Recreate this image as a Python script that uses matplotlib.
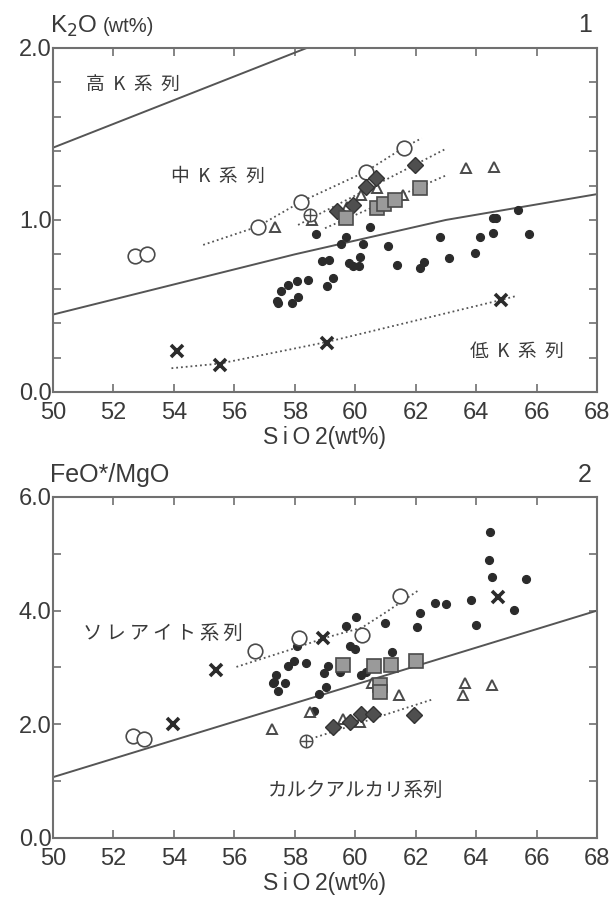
import matplotlib
matplotlib.use("Agg")
import matplotlib.pyplot as plt

plt.rcParams['font.family'] = ['Liberation Sans', 'Noto Sans CJK JP', 'DejaVu Sans']

# ---------------- Panel 1 : K2O vs SiO2 ----------------
k_dot_x = [58.7, 58.91, 59.13, 59.25, 59.05, 58.44, 58.08, 57.79, 57.55, 58.12, 57.9, 57.42, 57.46,
           59.8, 59.93, 60.13, 60.15, 61.38, 62.15, 62.26, 63.1, 63.95,
           65.38, 64.56, 64.67, 62.8, 64.12, 64.56, 65.75,
           60.48, 59.71, 59.54, 60.26, 61.09]
k_dot_y = [0.92, 0.763, 0.767, 0.661, 0.618, 0.651, 0.645, 0.62, 0.589, 0.554, 0.519, 0.53, 0.52,
           0.748, 0.733, 0.733, 0.783, 0.74, 0.719, 0.757, 0.777, 0.806,
           1.058, 1.01, 1.01, 0.899, 0.899, 0.926, 0.919,
           0.957, 0.9, 0.86, 0.86, 0.849]
k_circ_x = [52.7, 53.1, 56.77, 58.22, 60.35, 61.6]
k_circ_y = [0.79, 0.80, 0.961, 1.107, 1.281, 1.42]
k_tri_x = [57.34, 58.57, 59.74, 60.2, 60.73, 61.58, 63.65, 64.59]
k_tri_y = [0.961, 1.0, 1.074, 1.145, 1.184, 1.145, 1.30, 1.306]
k_dia_x = [59.41, 59.93, 60.37, 60.7, 61.99]
k_dia_y = [1.054, 1.087, 1.19, 1.242, 1.32]
k_sq_x = [59.71, 60.73, 60.94, 61.31, 62.15]
k_sq_y = [1.01, 1.068, 1.093, 1.116, 1.184]
k_crc_x = [58.5]
k_crc_y = [1.03]
k_x_x = [54.09, 55.52, 59.05, 64.83]
k_x_y = [0.238, 0.157, 0.287, 0.535]

# boundary lines (Gill-type)
k_high_x = [50, 58.4]
k_high_y = [1.42, 2.0]
k_low_x = [50, 58, 63, 68]
k_low_y = [0.45, 0.80, 1.0, 1.15]
# dotted trends
k_tr_circ_x = [54.97, 56.77, 58.22, 60.35, 61.6, 62.2]
k_tr_circ_y = [0.855, 0.961, 1.107, 1.281, 1.42, 1.475]
k_tr_dia_x = [58.11, 62.96]
k_tr_dia_y = [0.971, 1.41]
k_tr_sq_x = [59.0, 63.02]
k_tr_sq_y = [0.952, 1.26]
k_tr_x_x = [53.92, 55.52, 59.05, 64.83, 65.33]
k_tr_x_y = [0.138, 0.165, 0.29, 0.535, 0.558]

# ---------------- Panel 2 : FeO*/MgO vs SiO2 ----------------
f_dot_x = [64.47, 64.42, 64.53, 65.64, 65.27, 63.83, 63.0, 62.63, 64.0, 62.16, 62.03, 61.0,
           59.69, 60.04, 59.84, 60.0, 61.23, 58.06,
           57.98, 57.78, 58.36, 59.1, 58.96, 59.49, 60.18, 60.36, 59.02, 58.79,
           57.37, 57.31, 57.28, 57.69, 57.43, 58.63]
f_dot_y = [5.38, 4.89, 4.60, 4.56, 4.01, 4.18, 4.11, 4.135, 3.74, 3.95, 3.71, 3.78,
           3.73, 3.89, 3.37, 3.32, 3.28, 3.37,
           3.11, 3.03, 3.08, 3.02, 2.91, 2.92, 2.86, 2.92, 2.66, 2.54,
           2.86, 2.75, 2.73, 2.73, 2.59, 2.24]
f_circ_x = [52.65, 53.0, 56.68, 58.13, 60.22, 61.47]
f_circ_y = [1.79, 1.74, 3.29, 3.52, 3.58, 4.25]
f_tri_x = [57.25, 58.5, 59.6, 60.15, 60.54, 61.45, 63.63, 63.58, 64.54]
f_tri_y = [1.91, 2.22, 2.10, 2.04, 2.73, 2.51, 2.72, 2.51, 2.69]
f_dia_x = [59.27, 59.82, 60.2, 60.59, 61.93]
f_dia_y = [1.96, 2.04, 2.18, 2.18, 2.16]
f_sq_x = [59.58, 60.61, 61.17, 62.02, 60.81, 60.81]
f_sq_y = [3.04, 3.02, 3.04, 3.12, 2.69, 2.57]
f_crc_x = [58.36]
f_crc_y = [1.71]
f_x_x = [53.98, 55.41, 58.93, 64.72]
f_x_y = [2.0, 2.95, 3.51, 4.24]

f_div_x = [50, 68]
f_div_y = [1.07, 4.0]
f_tr_circ_x = [56.07, 58.13, 58.93, 60.22, 61.04, 62.13]
f_tr_circ_y = [3.01, 3.36, 3.51, 3.70, 3.98, 4.37]
f_tr_dia_x = [58.39, 62.57]
f_tr_dia_y = [1.72, 2.44]

x_ticks = [50, 52, 54, 56, 58, 60, 62, 64, 66, 68]

TXT = '#3a3a3a'
SPINE = '#707070'
LINE = '#555555'

fig = plt.figure(figsize=(6.14, 8.99), dpi=100)
ax1 = fig.add_axes([0.0863, 0.5640, 0.886, 0.3827])
ax2 = fig.add_axes([0.0863, 0.0679, 0.886, 0.3793])

sp = '\u2009'
jp = ['Noto Sans CJK JP', 'DejaVu Sans']
xlab = 'S' + sp + 'i' + sp + 'O' + sp + '2' + '(wt%)'


def style(ax, ymax, ymajor, yminor):
    ax.set_xlim(50, 68)
    ax.set_ylim(0, ymax)
    ax.set_xticks(x_ticks)
    ax.set_xticklabels([str(t) for t in x_ticks])
    nmaj = int(round(ymax / ymajor))
    ax.set_yticks([i * ymajor for i in range(nmaj + 1)])
    ax.set_yticklabels(['%.1f' % (i * ymajor) for i in range(nmaj + 1)])
    n = int(round(ymax / yminor))
    ax.set_yticks([i * yminor for i in range(n + 1)], minor=True)
    ax.tick_params(which='both', direction='in', top=True, right=True, color=SPINE,
                   width=1.2, length=6, labelcolor=TXT, labelsize=17)
    ax.tick_params(axis='x', pad=7)
    ax.tick_params(axis='y', pad=1)
    for s in ax.spines.values():
        s.set_color(SPINE)
        s.set_linewidth(1.5)
    ax.set_xlabel(xlab, fontsize=16.5, color=TXT, labelpad=2,
                  family=['Liberation Sans', 'DejaVu Sans'])


def markers(ax, dx, dy, cx, cy, tx, ty, qx, qy, sx, sy, ccx, ccy, xx, xy):
    ax.plot(dx, dy, 'o', ms=5.6, color='#2b2b2b', mec='#2b2b2b', zorder=5)
    ax.plot(tx, ty, '^', ms=7.5, mfc='white', mec='#4a4a4a', mew=1.4, zorder=6)
    ax.plot(cx, cy, 'o', ms=10.5, mfc='white', mec='#4a4a4a', mew=1.2, zorder=6)
    ax.plot(ccx, ccy, 'o', ms=9, mfc='white', mec='#4a4a4a', mew=1.1, zorder=6)
    ax.plot(ccx, ccy, '+', ms=9, mec='#4a4a4a', mew=1.0, zorder=7)
    ax.plot(qx, qy, 'D', ms=8, mfc='#4f4f4f', mec='#333333', mew=1.0, zorder=7)
    ax.plot(sx, sy, 's', ms=10, mfc='#9a9a9a', mec='#4a4a4a', mew=1.2, zorder=7)
    ax.plot(xx, xy, 'x', ms=9, mec='#2b2b2b', mew=2.6, zorder=7)


# Panel 1
style(ax1, 2.0, 1.0, 0.2)
ax1.plot(k_high_x, k_high_y, '-', color=LINE, lw=1.4)
ax1.plot(k_low_x, k_low_y, '-', color=LINE, lw=1.4)
for tx_, ty_ in [(k_tr_circ_x, k_tr_circ_y), (k_tr_dia_x, k_tr_dia_y),
                 (k_tr_sq_x, k_tr_sq_y), (k_tr_x_x, k_tr_x_y)]:
    ax1.plot(tx_, ty_, ':', color='#555555', lw=1.3)
markers(ax1, k_dot_x, k_dot_y, k_circ_x, k_circ_y, k_tri_x, k_tri_y, k_dia_x, k_dia_y,
        k_sq_x, k_sq_y, k_crc_x, k_crc_y, k_x_x, k_x_y)
ax1.text(51.1, 1.785, '高  K  系  列', fontsize=13.5, color=TXT, family=jp, va='center')
ax1.text(53.9, 1.25, '中  K  系  列', fontsize=13.5, color=TXT, family=jp, va='center')
ax1.text(63.8, 0.234, '低  K  系  列', fontsize=13.5, color=TXT, family=jp, va='center')
ax1.text(-0.005, 1.045, 'K$_2$O', fontsize=17.5, color=TXT, transform=ax1.transAxes, va='baseline')
ax1.text(0.092, 1.045, '(wt%)', fontsize=14.5, color=TXT, transform=ax1.transAxes, va='baseline')
ax1.text(0.99, 1.045, '1', fontsize=18, color=TXT, transform=ax1.transAxes, va='baseline', ha='right')

# Panel 2
style(ax2, 6.0, 2.0, 1.0)
ax2.plot(f_div_x, f_div_y, '-', color=LINE, lw=1.4)
for tx_, ty_ in [(f_tr_circ_x, f_tr_circ_y), (f_tr_dia_x, f_tr_dia_y)]:
    ax2.plot(tx_, ty_, ':', color='#555555', lw=1.3)
markers(ax2, f_dot_x, f_dot_y, f_circ_x, f_circ_y, f_tri_x, f_tri_y, f_dia_x, f_dia_y,
        f_sq_x, f_sq_y, f_crc_x, f_crc_y, f_x_x, f_x_y)
ax2.text(51.0, 3.6, sp.join('ソレアイト系列'), fontsize=14, color=TXT, family=jp, va='center')
ax2.text(57.1, 0.83, 'カルクアルカリ系列', fontsize=14, color=TXT, family=jp, va='center')
ax2.text(-0.005, 1.045, 'FeO*/MgO', fontsize=18, color=TXT, transform=ax2.transAxes, va='baseline')
ax2.text(0.99, 1.045, '2', fontsize=18, color=TXT, transform=ax2.transAxes, va='baseline', ha='right')

fig.savefig('out.png', dpi=100)
